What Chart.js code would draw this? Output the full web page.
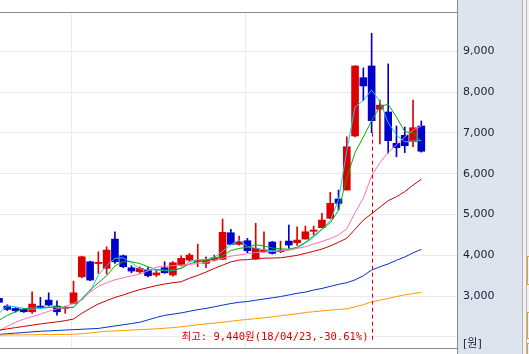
<!DOCTYPE html>
<html>
<head>
<meta charset="utf-8">
<script src="https://cdn.jsdelivr.net/npm/chart.js@4.4.0/dist/chart.umd.min.js"></script>
<style>
  html, body { margin: 0; padding: 0; background: #ffffff; }
  #wrap { width: 529px; height: 354px; }
</style>
</head>
<body>
<div id="wrap"><canvas id="stockChart" width="529" height="354"></canvas></div>
<script>
// 일봉 시가 / 고가 / 저가 / 종가
const candleOpen  = [2946, 2757, 2700, 2684, 2618, 2757, 2904, 2757, 2700, 2823,
                     3475, 3843, 3800, 3681, 4399, 3990, 3696, 3598, 3640, 3520,
                     3696, 3517, 3762, 3885, 3845, 3804, 3885, 3902, 4554, 4270,
                     4358, 3909, 4090, 4326, 4090, 4350, 4309, 4399, 4590, 4676,
                     4907, 5380, 5600, 6924, 8353, 8640, 7580, 7512, 6745, 6941,
                     6784, 7169];
const candleHigh  = [2970, 2790, 2720, 2700, 3108, 2971, 3083, 2887, 2757, 3370,
                     3980, 3860, 4088, 4211, 4578, 4010, 3745, 3720, 3700, 3640,
                     3843, 3850, 3990, 4050, 4277, 3966, 4007, 4890, 4637, 4473,
                     4417, 4784, 4578, 4340, 4350, 4743, 4701, 4718, 4718, 5029,
                     5544, 5600, 6907, 8650, 8591, 9440, 7806, 8689, 7169, 7145,
                     7806, 7292];
const candleLow   = [2830, 2650, 2610, 2600, 2578, 2700, 2760, 2537, 2578, 2810,
                     3450, 3380, 3559, 3542, 3804, 3700, 3573, 3560, 3470, 3480,
                     3560, 3493, 3740, 3850, 3721, 3696, 3860, 3900, 4260, 4250,
                     4064, 3900, 4080, 4030, 4064, 4172, 4245, 4399, 4497, 4676,
                     4900, 5110, 5600, 6900, 7789, 7005, 6728, 6500, 6417, 6515,
                     6662, 6530];
const candleClose = [2850, 2676, 2642, 2618, 2806, 2725, 2782, 2618, 2725, 3083,
                     3966, 3395, 3830, 4130, 3843, 3721, 3615, 3681, 3500, 3570,
                     3573, 3819, 3926, 4007, 3870, 3885, 3941, 4564, 4270, 4333,
                     4113, 4172, 4130, 4049, 4130, 4252, 4375, 4578, 4620, 4865,
                     5274, 5274, 6662, 8640, 8150, 7299, 7680, 6809, 6637, 6686,
                     7127, 6550];

// 이동평균선 (5, 10, 20, 60, 120, 240일)
const ma5   = [2580, 2760, 2740, 2700, 2680, 2700, 2720, 2725, 2710, 2730,
               2920, 3110, 3520, 3750, 3926, 3940, 3820, 3670, 3640, 3640,
               3625, 3625, 3690, 3840, 3900, 3890, 3950, 4100, 4260, 4375,
               4211, 4180, 4135, 4115, 4113, 4130, 4180, 4300, 4440, 4630,
               4850, 5360, 6560, 7640, 7790, 8050, 7770, 7250, 6950, 6780,
               6800, 6814];
const ma10  = [2410, 2530, 2620, 2690, 2725, 2725, 2730, 2740, 2730, 2725,
               2940, 3150, 3330, 3500, 3740, 3843, 3843, 3800, 3721, 3650,
               3640, 3640, 3681, 3790, 3850, 3880, 3930, 3990, 4120, 4170,
               4200, 4260, 4230, 4180, 4160, 4150, 4200, 4320, 4480, 4640,
               4800, 5100, 5900, 6520, 6900, 7300, 7650, 7700, 7390, 7030,
               7000, 6800];
const ma20  = [2150, 2260, 2360, 2440, 2500, 2560, 2630, 2690, 2740, 2830,
               2900, 3100, 3240, 3330, 3400, 3450, 3500, 3540, 3620, 3710,
               3730, 3750, 3762, 3780, 3800, 3830, 3880, 3930, 3980, 4010,
               4040, 4069, 4080, 4095, 4110, 4130, 4170, 4210, 4280, 4340,
               4410, 4500, 4650, 5050, 5400, 5950, 6270, 6520, 6710, 6900,
               7070, 7169];
const ma60  = [2165, 2200, 2230, 2260, 2290, 2320, 2345, 2370, 2400, 2440,
               2580, 2700, 2810, 2890, 2970, 3030, 3100, 3160, 3210, 3260,
               3297, 3330, 3353, 3440, 3510, 3590, 3680, 3760, 3840, 3885,
               3895, 3920, 3930, 3935, 3941, 3970, 4000, 4049, 4100, 4154,
               4230, 4320, 4420, 4640, 4865, 5020, 5180, 5340, 5436, 5560,
               5720, 5863];
const ma120 = [2064, 2080, 2095, 2110, 2125, 2140, 2150, 2160, 2170, 2180,
               2190, 2200, 2210, 2240, 2270, 2300, 2330, 2360, 2420, 2480,
               2530, 2560, 2590, 2630, 2670, 2700, 2740, 2780, 2820, 2850,
               2870, 2900, 2930, 2960, 2990, 3030, 3070, 3100, 3150, 3190,
               3240, 3290, 3330, 3400, 3500, 3640, 3720, 3790, 3880, 3960,
               4060, 4147];
const ma240 = [2047, 2049, 2051, 2053, 2055, 2057, 2059, 2061, 2063, 2066,
               2080, 2100, 2120, 2140, 2150, 2160, 2170, 2180, 2190, 2200,
               2215, 2230, 2250, 2275, 2300, 2320, 2340, 2360, 2385, 2410,
               2430, 2450, 2470, 2495, 2520, 2545, 2570, 2600, 2620, 2640,
               2660, 2675, 2690, 2740, 2790, 2860, 2900, 2945, 2990, 3030,
               3065, 3093];

// 가격축 눈금, 월 구분선 위치
const priceTicks = [2000, 3000, 4000, 5000, 6000, 7000, 8000, 9000];
const monthLines = [8.7, 29.8];

// 최고가 표시
const peakIndex = 45;
const peakDate = '18/04/23';
const peakChange = '-30.61%';

const UP = '#dd0000';
const DOWN = '#0000cc';

const candleColors = candleOpen.map((o, i) => candleClose[i] >= o ? UP : DOWN);
const wickData = candleOpen.map((o, i) => ({ x: i, y: [candleLow[i], candleHigh[i]] }));
const bodyData = candleOpen.map((o, i) => ({ x: i, y: [o, candleClose[i]] }));

function maLine(values, color) {
    return {
        type: 'line',
        data: values.map((v, i) => ({ x: i, y: v })),
        borderColor: color,
        borderWidth: 1,
        pointRadius: 0,
        tension: 0,
        order: 0
    };
}

// 배경, 테두리, 최고가 주석
const framePlugin = {
    id: 'frame',
    beforeDraw(chart) {
        const c = chart.ctx;
        const a = chart.chartArea;
        c.save();
        c.fillStyle = '#ffffff';
        c.fillRect(0, 0, chart.width, chart.height);
        // 오른쪽 가격축 패널
        c.fillStyle = '#dde4ed';
        c.fillRect(a.right, 0, 65, chart.height);
        c.fillStyle = '#f2f2f2';
        c.fillRect(a.right + 65, 0, chart.width - a.right - 65, chart.height);
        c.strokeStyle = '#b4b4b4';
        c.lineWidth = 1;
        c.beginPath();
        c.moveTo(a.right + 65.5, 0);
        c.lineTo(a.right + 65.5, chart.height);
        c.moveTo(a.right + 69.5, 0);
        c.lineTo(a.right + 69.5, chart.height);
        c.stroke();
        c.strokeStyle = '#e0a040';
        [[256, 28], [312, 26], [343, 12]].forEach(([y, h]) => {
            c.strokeRect(a.right + 70.5, y + 0.5, 6, h);
        });
        c.restore();
    },
    afterDraw(chart) {
        const c = chart.ctx;
        const a = chart.chartArea;
        const xs = chart.scales.x;
        const ys = chart.scales.y;
        c.save();
        c.strokeStyle = '#8c8c8c';
        c.lineWidth = 1;
        c.beginPath();
        c.moveTo(0, Math.round(a.top) + 0.5);
        c.lineTo(a.right, Math.round(a.top) + 0.5);
        c.moveTo(0, Math.round(a.bottom) - 0.5);
        c.lineTo(a.right, Math.round(a.bottom) - 0.5);
        c.moveTo(Math.round(a.right) + 0.5, 0);
        c.lineTo(Math.round(a.right) + 0.5, chart.height);
        c.stroke();

        // 최고가 점선
        const px = Math.round(xs.getPixelForValue(peakIndex)) + 0.5;
        c.strokeStyle = '#e00000';
        c.setLineDash([4, 3]);
        c.beginPath();
        c.moveTo(px, ys.getPixelForValue(candleLow[peakIndex]));
        c.lineTo(px, a.bottom - 9);
        c.stroke();
        c.setLineDash([]);

        const high = candleHigh[peakIndex].toLocaleString('en-US');
        c.fillStyle = '#e00000';
        c.font = '10.5px "DejaVu Sans Mono", "Noto Sans CJK KR"';
        c.textAlign = 'right';
        c.textBaseline = 'middle';
        c.fillText('최고: ' + high + '원(' + peakDate + ',' + peakChange + ')', px - 4, a.bottom - 12);

        c.fillStyle = '#1e1e32';
        c.font = '11px "DejaVu Sans", "Noto Sans CJK KR"';
        c.textAlign = 'left';
        c.fillText('[원]', a.right + 6, a.bottom - 5);
        c.restore();
    }
};

new Chart(document.getElementById('stockChart'), {
    type: 'bar',
    data: {
        datasets: [
            maLine(ma240, '#ff9900'),
            maLine(ma120, '#0033cc'),
            maLine(ma60, '#cc0000'),
            maLine(ma20, '#ff6eb4'),
            maLine(ma10, '#00b400'),
            maLine(ma5, '#1ec8e6'),
            {
                data: bodyData,
                backgroundColor: candleColors,
                barThickness: 7,
                minBarLength: 1,
                grouped: false,
                borderWidth: 0,
                order: 1
            },
            {
                data: wickData,
                backgroundColor: candleColors,
                barThickness: 1,
                grouped: false,
                borderWidth: 0,
                order: 2
            }
        ]
    },
    options: {
        responsive: false,
        animation: false,
        layout: { padding: { top: 12, bottom: 5, left: 0, right: 0 } },
        plugins: {
            legend: { display: false },
            tooltip: { enabled: false }
        },
        scales: {
            x: {
                type: 'linear',
                offset: false,
                min: 0.121,
                max: 55.31,
                afterBuildTicks: (scale) => { scale.ticks = monthLines.map(v => ({ value: v })); },
                afterFit: (scale) => { scale.height = 0; scale.paddingLeft = 0; scale.paddingRight = 0; },
                ticks: { display: false },
                grid: { color: '#ebebeb', drawTicks: false, offset: false },
                border: { display: false }
            },
            y: {
                position: 'right',
                min: 1706,
                max: 9962,
                afterBuildTicks: (scale) => { scale.ticks = priceTicks.map(v => ({ value: v })); },
                afterFit: (scale) => { scale.width = 72; scale.paddingTop = 0; scale.paddingBottom = 0; },
                ticks: {
                    padding: 6,
                    color: '#1e1e32',
                    font: { family: '"DejaVu Sans"', size: 11 },
                    callback: (v) => v === 2000 ? '' : v.toLocaleString('en-US')
                },
                grid: { color: '#ebebeb', drawTicks: false },
                border: { display: false }
            }
        }
    },
    plugins: [framePlugin]
});
</script>
</body>
</html>
